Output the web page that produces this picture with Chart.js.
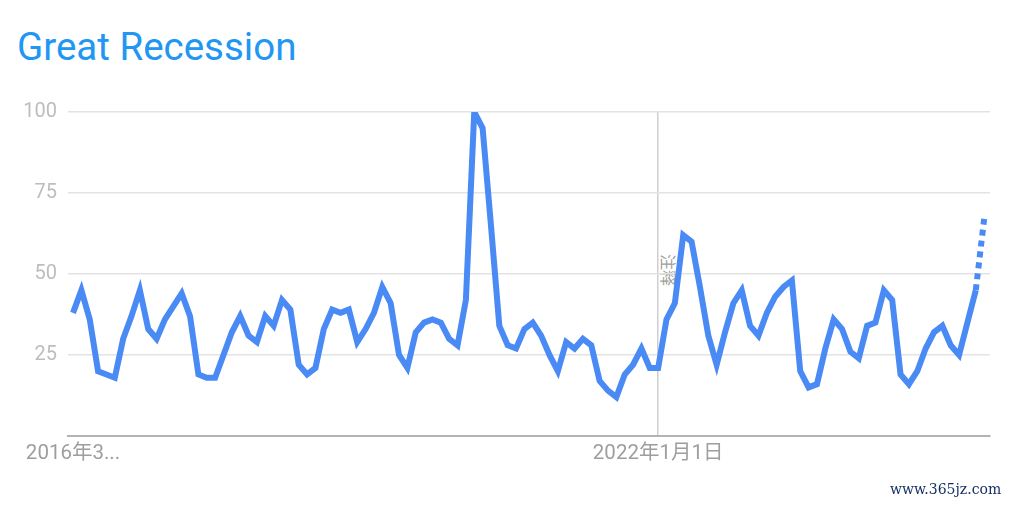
<!DOCTYPE html>
<html>
<head>
<meta charset="utf-8">
<script src="https://cdn.jsdelivr.net/npm/chart.js@4.4.0/dist/chart.umd.min.js"></script>
<style>
    html, body { margin: 0; padding: 0; background: #fff; }
    #wrap { position: relative; width: 1013px; height: 505px; overflow: hidden; }
    #grafico { position: absolute; left: 0; top: 0; z-index: 1; }
    .titulo { position: absolute; left: 17px; top: 28px; font: 38.5px/1 Roboto, "Noto Sans", sans-serif; color: #2196f3; white-space: nowrap; }
    .nota { position: absolute; left: 661px; top: 254px; z-index: 0; font: 16px/1 "Noto Sans CJK SC", sans-serif; color: #9e9e9e; writing-mode: vertical-rl; text-orientation: sideways; }
    .marca { position: absolute; left: 890px; top: 482px; font: 14px/1 "DejaVu Serif", serif; color: #173064; white-space: nowrap; z-index: 2; }
</style>
</head>
<body>
<div id="wrap">
    <div class="titulo">Great Recession</div>
    <div class="nota">注释</div>
    <canvas id="grafico" width="1013" height="505"></canvas>
    <div class="marca">www.365jz.com</div>
</div>
<script>
// monthly interest, March 2016 onward (last point partial)
const interest = [
    38, 45, 36, 20, 19, 18, 30, 37, 45, 33,
    30, 36, 40, 44, 37, 19, 18, 18, 25, 32,
    37, 31, 29, 37, 34, 42, 39, 22, 19, 21,
    33, 39, 38, 39, 29, 33, 38, 46, 41, 25,
    21, 32, 35, 36, 35, 30, 28, 42, 100, 95,
    65, 34, 28, 27, 33, 35, 31, 25, 20, 29,
    27, 30, 28, 17, 14, 12, 19, 22, 27, 21,
    21, 36, 41, 62, 60, 46, 31, 22, 32, 41,
    45, 34, 31, 38, 43, 46, 48, 20, 15, 16,
    27, 36, 33, 26, 24, 34, 35, 45, 42, 19,
    16, 20, 27, 32, 34, 28, 25, 35, 45, 67
];
const xTickIndex = [0, 70];
const xTickLabels = ['2016年3...', '2022年1月1日'];
const noteIndex = 70;
const yTicks = [0, 25, 50, 75, 100];

const points = interest.map((v, i) => ({ x: i, y: v }));
const last = interest.length - 1;

const ctx = document.getElementById('grafico').getContext('2d');
new Chart(ctx, {
    type: 'line',
    data: {
        datasets: [{
            data: points,
            borderColor: '#4a8af4',
            borderWidth: 6,
            borderJoinStyle: 'miter',
            borderCapStyle: 'butt',
            pointRadius: 0,
            tension: 0,
            segment: {
                borderDash: c => c.p1DataIndex === last ? [6, 5] : undefined
            }
        }]
    },
    options: {
        responsive: false,
        animation: false,
        events: [],
        layout: { padding: { left: 0, right: 23, top: 112, bottom: 39 } },
        plugins: { legend: { display: false }, tooltip: { enabled: false } },
        scales: {
            x: {
                type: 'linear',
                min: -0.6,
                max: 109.7,
                afterBuildTicks: s => { s.ticks = xTickIndex.map(v => ({ value: v })); },
                afterFit: s => { s.height = 30; },
                ticks: {
                    autoSkip: false,
                    maxRotation: 0,
                    padding: 6,
                    color: '#9e9e9e',
                    font: { family: 'Roboto, "Noto Sans CJK SC"', size: 20.5 },
                    callback: v => xTickLabels[xTickIndex.indexOf(v)]
                },
                grid: {
                    drawTicks: false,
                    lineWidth: 1.5,
                    color: c => (c.tick && c.tick.value === noteIndex) ? '#cfcfcf' : 'rgba(0,0,0,0)'
                },
                border: { display: true, color: '#b3b3b3', width: 2 }
            },
            y: {
                min: 0,
                max: 100,
                afterBuildTicks: s => { s.ticks = yTicks.map(v => ({ value: v })); },
                afterFit: s => { s.width = 68; },
                ticks: {
                    padding: 11,
                    color: '#bdbdbd',
                    font: { family: 'Roboto', size: 20 },
                    callback: v => v === 0 ? '' : v
                },
                grid: { drawTicks: false, color: '#e3e3e3', lineWidth: 1.5 },
                border: { display: false }
            }
        }
    }
});
</script>
</body>
</html>
